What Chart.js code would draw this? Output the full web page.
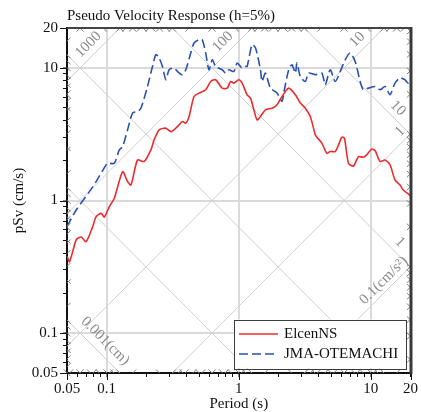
<!DOCTYPE html>
<html><head><meta charset="utf-8">
<script src="https://cdn.jsdelivr.net/npm/chart.js@4/dist/chart.umd.min.js"></script>
<style>html,body{margin:0;padding:0;background:#fff}#wrap{width:421px;height:412px}</style>
</head><body><div id="wrap"><canvas id="c" width="421" height="412"></canvas></div>
<script>
const chartTitle = 'Pseudo Velocity Response (h=5%)';
const xAxisTitle = 'Period (s)';
const yAxisTitle = 'pSv (cm/s)';
const seriesNames = ['ElcenNS', 'JMA-OTEMACHI'];

const periodsElcen = [0.05,0.0522,0.0555,0.059,0.064,0.0698,0.0783,0.0831,0.0906,0.0959,0.1047,0.1141,0.1319,0.1438,0.1526,0.1711,0.1923,0.216,0.2287,0.2495,0.2804,0.3058,0.3336,0.3533,0.3741,0.3969,0.4203,0.4585,0.5,0.5618,0.6128,0.668,0.749,0.818,0.867,0.919,1.002,1.061,1.157,1.228,1.301,1.377,1.461,1.593,1.787,1.95,2.127,2.389,2.684,2.928,3.194,3.483,3.8,3.907,4.26,4.65,4.93,5.38,5.7,6.03,6.32,6.78,7.39,8.07,8.8,9.32,10.16,10.78,11.76,12.83,13.99,15.26,16.65,17.63,19.23,20];
const svElcen = [0.38,0.345,0.42,0.51,0.53,0.49,0.635,0.755,0.80,0.75,0.90,1.04,1.65,1.39,1.31,2.02,1.97,2.41,2.87,3.41,3.51,3.31,3.51,3.72,3.94,3.83,4.30,6.09,6.46,6.84,7.90,8.14,7.04,7.04,7.90,7.68,8.14,7.68,6.27,5.92,4.83,4.06,4.30,4.83,4.97,5.27,6.09,7.04,6.27,5.43,4.97,4.30,3.13,3.0,2.71,2.27,2.34,2.34,2.63,3.0,2.95,1.91,1.82,2.14,2.12,2.21,2.44,2.38,1.97,2.02,1.86,1.43,1.31,1.20,1.12,1.08];

const periodsJma = [0.05,0.0587,0.0739,0.0831,0.0988,0.1016,0.1141,0.1245,0.1319,0.1438,0.1569,0.1711,0.1816,0.2036,0.2221,0.2357,0.2495,0.2642,0.2804,0.2969,0.3238,0.343,0.3741,0.3969,0.433,0.4585,0.5,0.5295,0.5618,0.595,0.63,0.668,0.749,0.795,0.842,0.919,0.973,1.061,1.126,1.157,1.262,1.34,1.461,1.502,1.593,1.738,1.95,2.127,2.191,2.389,2.531,2.684,2.76,2.928,3.194,3.383,3.8,4.26,4.52,4.93,5.38,5.87,6.4,6.98,7.62,8.31,8.8,9.6,10.78,11.76,12.83,13.99,15.26,16.65,18.16,19.23,20];
const svJma = [0.635,0.848,1.166,1.388,1.856,1.91,1.91,2.41,2.55,3.41,4.56,4.69,4.97,7.24,10.26,12.57,11.87,10.26,8.14,9.68,9.97,9.4,8.88,9.68,12.94,15.41,16.32,16.3,12.94,9.68,11.52,10.26,9.68,9.14,9.68,9.4,10.88,9.97,10.26,10.26,14.96,14.13,9.68,7.9,9.14,7.04,6.46,5.58,6.46,9.68,10.57,9.14,10.88,8.62,7.9,9.14,8.88,9.14,7.46,9.68,7.9,9.4,11.52,12.94,11.19,7.9,6.84,7.04,7.24,6.84,7.24,6.27,7.68,8.39,8.14,7.68,8.14];

const xRange = [0.05, 20];
const yRange = [0.05, 20];
const xLabelTicks = [0.05, 0.1, 1, 10, 20];
const yLabelTicks = [0.05, 0.1, 1, 10, 20];
const gridDecades = [0.1, 1, 10];
const dispLineValues = [0.001, 0.01, 0.1, 1, 10];      // cm
const accLineValues = [0.1, 1, 10, 100, 1000];         // cm/s^2
const dispLabelTexts = [['10', 10], ['1', 1], ['0.001(cm)', 0.001]];
const accLabelTexts = [['1000', 1000], ['100', 100], ['10', 10], ['1', 1], ['0.1(cm/s²)', 0.1]];

// ---- styling / layout ----
const FONT = "'Liberation Serif','Times New Roman',Times,serif";
const TWO_PI = 2 * Math.PI;
const RED = '#ee2b2b', BLUE = '#2a52b3';
const LABEL_POS = { // [distance along line from edge crossing to text start, perpendicular offset]
  D: {10: [35, 9.7], 1: [29, 10.3], 0.001: [64, 12.2]},
  A: {1000: [49, 10.5], 100: [41.5, 10.8], 10: [34.5, 10.5], 1: [9.5, 9], 0.1: [59.6, 9]}
};
const isIn = (arr, v) => arr.some(t => Math.abs(t - v) <= t * 1e-6);
const minorVals = [];
for (let e = -5; e <= 5; e++) for (let k = 1; k <= 9; k++) minorVals.push(+(k * Math.pow(10, e)).toPrecision(3));
const axisTicks = (lo, hi) => minorVals.filter(v => v >= lo * (1 - 1e-9) && v <= hi * (1 + 1e-9));

function crossings(kind, v) {
  const [x0, x1] = xRange, [y0, y1] = yRange, out = [];
  const inX = T => T >= x0 * (1 - 1e-9) && T <= x1 * (1 + 1e-9);
  const inY = S => S >= y0 * (1 - 1e-9) && S <= y1 * (1 + 1e-9);
  if (kind === 'D') {
    let T = TWO_PI * v / y1; if (inX(T)) out.push([T, y1, 'top']);
    T = TWO_PI * v / y0; if (inX(T)) out.push([T, y0, 'bottom']);
    let S = TWO_PI * v / x0; if (inY(S)) out.push([x0, S, 'left']);
    S = TWO_PI * v / x1; if (inY(S)) out.push([x1, S, 'right']);
  } else {
    let T = TWO_PI * y1 / v; if (inX(T)) out.push([T, y1, 'top']);
    T = TWO_PI * y0 / v; if (inX(T)) out.push([T, y0, 'bottom']);
    let S = v * x0 / TWO_PI; if (inY(S)) out.push([x0, S, 'left']);
    S = v * x1 / TWO_PI; if (inY(S)) out.push([x1, S, 'right']);
  }
  return out;
}

const tripartite = {
  id: 'tripartite',
  beforeDatasetsDraw(chart) {
    const {ctx, chartArea: a, scales: {x, y}} = chart;
    const px = (T, S) => [x.getPixelForValue(T), y.getPixelForValue(S)];
    ctx.save();
    ctx.beginPath(); ctx.rect(a.left, a.top, a.right - a.left, a.bottom - a.top); ctx.clip();
    ctx.strokeStyle = '#cfcfcf'; ctx.lineWidth = 1;
    const T0 = 0.005, T1 = 200;
    dispLineValues.forEach(d => {
      ctx.beginPath(); ctx.moveTo(...px(T0, TWO_PI * d / T0)); ctx.lineTo(...px(T1, TWO_PI * d / T1)); ctx.stroke();
    });
    accLineValues.forEach(A => {
      ctx.beginPath(); ctx.moveTo(...px(T0, A * T0 / TWO_PI)); ctx.lineTo(...px(T1, A * T1 / TWO_PI)); ctx.stroke();
    });
    ctx.restore();
    // labels
    ctx.save();
    ctx.fillStyle = '#8a8a8a'; ctx.font = '15px ' + FONT; ctx.textAlign = 'left'; ctx.textBaseline = 'middle';
    const r = Math.SQRT1_2;
    accLabelTexts.forEach(([txt, v]) => {
      const c = crossings('A', v).find(p => p[2] === 'top' || p[2] === 'right');
      if (!c) return;
      const [cx, cy] = px(c[0], c[1]);
      const [s, q] = LABEL_POS.A[v];
      const ax = cx - s * r - q * r, ay = cy + s * r - q * r;
      ctx.save(); ctx.translate(ax, ay); ctx.rotate(-Math.PI / 4); ctx.fillText(txt, 0, 0); ctx.restore();
    });
    dispLabelTexts.forEach(([txt, v]) => {
      const c = crossings('D', v).find(p => p[2] === 'right') || crossings('D', v).find(p => p[2] === 'bottom');
      if (!c) return;
      const [cx, cy] = px(c[0], c[1]);
      const [s, q] = LABEL_POS.D[v];
      const ax = cx - s * r + q * r, ay = cy - s * r - q * r;
      ctx.save(); ctx.translate(ax, ay); ctx.rotate(Math.PI / 4); ctx.fillText(txt, 0, 0); ctx.restore();
    });
    ctx.restore();
  },
  afterDraw(chart) {
    const {ctx, chartArea: a, scales: {x, y}} = chart;
    const px = (T, S) => [x.getPixelForValue(T), y.getPixelForValue(S)];
    ctx.save();
    // diagonal edge ticks
    ctx.strokeStyle = '#808080'; ctx.lineWidth = 1;
    const L = 3.6;
    const dirs = {
      D: {top: [1, 1], left: [1, 1], bottom: [-1, -1], right: [-1, -1]},
      A: {top: [-1, 1], right: [-1, 1], left: [1, -1], bottom: [1, -1]}
    };
    ['D', 'A'].forEach(kind => {
      minorVals.forEach(v => {
        crossings(kind, v).forEach(([T, S, edge]) => {
          const [cx, cy] = px(T, S), d = dirs[kind][edge];
          ctx.beginPath(); ctx.moveTo(cx, cy); ctx.lineTo(cx + d[0] * L, cy + d[1] * L); ctx.stroke();
        });
      });
    });
    // longer major ticks
    ctx.strokeStyle = '#111'; ctx.lineWidth = 1;
    const majors = [0.05, 0.1, 1, 10, 20];
    majors.forEach(v => {
      const xp = Math.round(x.getPixelForValue(v)) + 0.5;
      ctx.beginPath(); ctx.moveTo(xp, a.bottom); ctx.lineTo(xp, a.bottom + 7); ctx.stroke();
      const yp = Math.round(y.getPixelForValue(v)) + 0.5;
      ctx.beginPath(); ctx.moveTo(a.left, yp); ctx.lineTo(a.left - 7, yp); ctx.stroke();
    });
    // top / right frame
    ctx.strokeStyle = '#454545'; ctx.lineWidth = 2;
    ctx.beginPath(); ctx.moveTo(a.left, a.top); ctx.lineTo(a.right + 1.5, a.top); ctx.stroke();
    ctx.strokeStyle = '#3a3a3a'; ctx.lineWidth = 3;
    ctx.beginPath(); ctx.moveTo(a.right + 0.5, a.top - 1); ctx.lineTo(a.right + 0.5, a.bottom + 1); ctx.stroke();
    // legend
    const lw = 171.5, lh = 48.5;
    const lx = a.right - 5 - lw, ly = a.bottom - 5 - lh;
    ctx.fillStyle = '#fff'; ctx.fillRect(lx, ly, lw, lh);
    ctx.strokeStyle = '#3c3c3c'; ctx.lineWidth = 1;
    ctx.strokeRect(Math.round(lx) + 0.5, Math.round(ly) + 0.5, Math.round(lw), Math.round(lh));
    chart.data.datasets.forEach((ds, i) => {
      const yy = ly + 14.5 + i * 20;
      ctx.strokeStyle = ds.borderColor; ctx.lineWidth = ds.borderWidth;
      ctx.setLineDash(ds.borderDash || []);
      ctx.beginPath(); ctx.moveTo(lx + 5, yy); ctx.lineTo(lx + 44, yy); ctx.stroke();
      ctx.setLineDash([]);
      ctx.fillStyle = '#111'; ctx.font = '15px ' + FONT; ctx.textAlign = 'left'; ctx.textBaseline = 'middle';
      ctx.fillText(ds.label, lx + 50, yy + 0.5);
    });
    ctx.restore();
  }
};

const gridColor = c => (c.tick && isIn(gridDecades, c.tick.value)) ? '#dadada' : 'rgba(0,0,0,0)';
const gridWidth = c => (c.tick && isIn(gridDecades, c.tick.value)) ? 2 : 1;

new Chart(document.getElementById('c'), {
  type: 'line',
  data: {
    datasets: [
      {label: seriesNames[0], data: periodsElcen.map((t, i) => ({x: t, y: svElcen[i]})),
       borderColor: RED, borderWidth: 1.6, pointRadius: 0, tension: 0.25, fill: false},
      {label: seriesNames[1], data: periodsJma.map((t, i) => ({x: t, y: svJma[i]})),
       borderColor: BLUE, borderWidth: 1.6, borderDash: [9, 4], pointRadius: 0, tension: 0.25, fill: false}
    ]
  },
  options: {
    responsive: false, animation: false, devicePixelRatio: 1,
    layout: {padding: {left: 0, right: 9, top: 2, bottom: 0}},
    plugins: {
      legend: {display: false}, tooltip: {enabled: false},
      title: {display: true, text: chartTitle, align: 'start', fullSize: false, color: '#111',
              font: {family: FONT, size: 15, weight: 'normal', lineHeight: 1.2}, padding: {top: 5, bottom: 3}}
    },
    scales: {
      x: {
        type: 'logarithmic', position: 'bottom', min: xRange[0], max: xRange[1],
        afterBuildTicks: s => { s.ticks = axisTicks(xRange[0], xRange[1]).map(v => ({value: v})); },
        afterFit: s => { s.height = 39; },
        ticks: {autoSkip: false, maxRotation: 0, minRotation: 0, padding: 3, color: '#111',
                font: {family: FONT, size: 15},
                callback: v => isIn(xLabelTicks, v) ? String(v) : ''},
        grid: {color: gridColor, lineWidth: gridWidth, tickColor: '#111', tickWidth: 1, tickLength: 4, drawOnChartArea: true, drawTicks: true},
        border: {display: true, color: '#111', width: 2},
        title: {display: true, text: xAxisTitle, color: '#111', font: {family: FONT, size: 15, lineHeight: 1}, padding: {top: 0, bottom: 0}}
      },
      y: {
        type: 'logarithmic', position: 'left', min: yRange[0], max: yRange[1],
        afterBuildTicks: s => { s.ticks = axisTicks(yRange[0], yRange[1]).map(v => ({value: v})); },
        afterFit: s => { s.width = 67; },
        ticks: {autoSkip: false, padding: 5, color: '#111', font: {family: FONT, size: 15},
                callback: v => isIn(yLabelTicks, v) ? String(v) : ''},
        grid: {color: gridColor, lineWidth: gridWidth, tickColor: '#111', tickWidth: 1, tickLength: 4, drawOnChartArea: true, drawTicks: true},
        border: {display: true, color: '#111', width: 2},
        title: {display: true, text: yAxisTitle, color: '#111', font: {family: FONT, size: 15, lineHeight: 1.2}, padding: {top: 10, bottom: 0}}
      }
    }
  },
  plugins: [tripartite]
});
</script>
</body></html>
